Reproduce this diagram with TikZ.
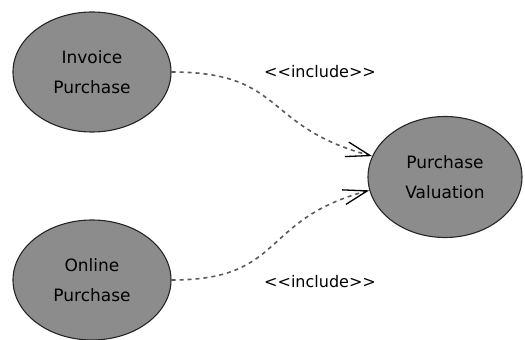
\documentclass[tikz,border=0pt]{standalone}
\usepackage{fontspec}
\setmainfont{DejaVu Sans}
\usetikzlibrary{shapes}
\usetikzlibrary{arrows.meta}

\begin{document}
\begin{tikzpicture}[x=1pt, y=1pt]

\tikzstyle{usecase}=[ellipse, minimum width = 158pt, minimum height = 120pt, inner sep = 0pt, line width = 1.1pt, draw = black!85, fill = black!45, align = center, font = \fontsize{17}{30}\selectfont, text = black]
\tikzstyle{stereo}=[font = \fontsize{16}{18}\selectfont, text = black]

\tikzstyle{include}=[dashed, dash pattern = on 4pt off 4pt, line width = 1.6pt, draw = black!65, -{Straight Barb[length=24pt, width=15pt, line width=1.3pt, black]}]

\useasboundingbox (0,0) rectangle (525,340);

\node[usecase] (ip) at (92,268)  {Invoice\\Purchase};
\node[usecase] (op) at (92,60)  {Online\\Purchase};
\node[usecase, minimum width = 154pt, minimum height = 121pt] (pv) at (445,163)  {Purchase\\Valuation};

\node[stereo] (incip) at (320,268)  {<{}<include>{}>};
\node[stereo] (incop) at (320,58)  {<{}<include>{}>};

\path (ip.east) edge[include, out=0, in=165, looseness=1.35] (pv.164);
\path (op.east) edge[include, out=0, in=195, looseness=1.35] (pv.190);

\end{tikzpicture}
\end{document}
